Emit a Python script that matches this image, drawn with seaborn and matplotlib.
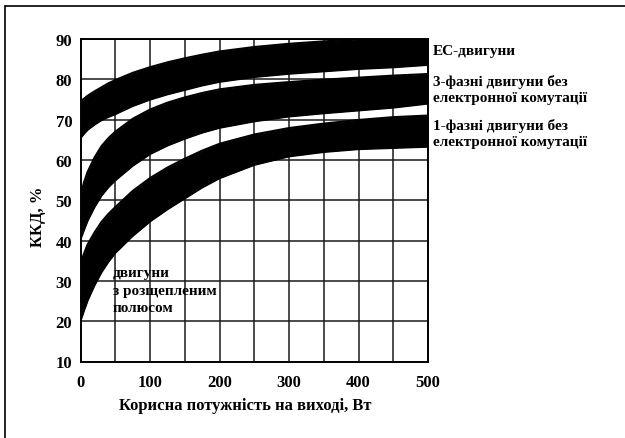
import numpy as np
import pandas as pd
import seaborn as sns
import matplotlib
matplotlib.use("Agg")
import matplotlib.pyplot as plt
from matplotlib.lines import Line2D

# ---- data ----
power = [0, 5, 10, 20, 30, 40, 50, 75, 100, 125, 150, 175, 200, 250, 300, 350, 400, 450, 500]
ec_hi = [74.5, 75.2, 75.9, 77.0, 78.0, 79.0, 79.8, 81.6, 83.0, 84.2, 85.2, 86.1, 86.9,
         88.0, 88.8, 89.4, 89.9, 90.2, 90.5]
ec_lo = [65.5, 66.6, 67.5, 68.8, 69.9, 70.7, 71.4, 73.4, 75.0, 76.3, 77.4, 78.5, 79.4,
         80.6, 81.4, 82.0, 82.6, 83.0, 83.6]
ph3_hi = [51.5, 54.5, 57.0, 60.6, 63.4, 65.4, 67.0, 70.2, 72.5, 74.2, 75.5, 76.6, 77.5,
          78.6, 79.3, 79.9, 80.4, 80.9, 81.3]
ph3_lo = [40.5, 42.8, 45.0, 48.4, 51.2, 53.3, 55.0, 58.6, 61.5, 63.6, 65.3, 66.8, 68.0,
          69.6, 70.8, 71.6, 72.3, 73.0, 74.0]
ph1_hi = [34.5, 36.8, 39.0, 42.0, 44.6, 46.6, 48.3, 52.3, 55.5, 58.1, 60.3, 62.3, 64.0,
          66.3, 67.9, 69.0, 69.9, 70.6, 71.0]
ph1_lo = [20.3, 22.8, 25.2, 29.0, 32.2, 34.8, 37.0, 41.2, 44.8, 47.8, 50.5, 53.2, 55.5,
          58.8, 60.9, 62.0, 62.7, 63.0, 63.3]

x_ticks = [0, 100, 200, 300, 400, 500]
y_ticks = [10, 20, 30, 40, 50, 60, 70, 80, 90]
x_label = "Корисна потужність на виході, Вт"
y_label = "ККД, %"
band_labels = [
    ("ЕС-двигуни", 52),
    ("3-фазні двигуни без", 82),
    ("електронної комутації", 98.5),
    ("1-фазні двигуни без", 126),
    ("електронної комутації", 142.5),
]
shaded_pole_label = "двигуни\nз розщепленим\nполюсом"

sns.set_theme(style="white")
plt.rcParams["font.family"] = ["Liberation Serif", "DejaVu Serif"]
plt.rcParams["font.weight"] = "bold"

W, H = 625, 439
fig = plt.figure(figsize=(W / 100, H / 100), dpi=100)
fig.patch.set_facecolor("white")
ax = fig.add_axes([80.7 / W, 1 - 362.5 / H, (428 - 80.7) / W, (362.5 - 40) / H])
ax.set_facecolor("white")

df = pd.DataFrame({"power": power, "ec_hi": ec_hi, "ec_lo": ec_lo,
                   "ph3_hi": ph3_hi, "ph3_lo": ph3_lo,
                   "ph1_hi": ph1_hi, "ph1_lo": ph1_lo})

for hi, lo in [("ec_hi", "ec_lo"), ("ph3_hi", "ph3_lo"), ("ph1_hi", "ph1_lo")]:
    ax.fill_between(df["power"], df[lo], df[hi], color="black", lw=0, zorder=3)
    for col in (hi, lo):
        sns.lineplot(data=df, x="power", y=col, ax=ax, color="black", lw=1.6,
                     zorder=3, legend=False)

ax.set_xlim(0, 500)
ax.set_ylim(10, 90)
ax.set_xticks(x_ticks)
ax.set_xticks(np.arange(0, 501, 50), minor=True)
ax.set_yticks(y_ticks)
ax.set_xticklabels([str(v) for v in x_ticks], fontsize=12, fontweight="bold")
ax.set_yticklabels([str(v) for v in y_ticks], fontsize=12, fontweight="bold")
ax.grid(True, which="both", color="#1a1a1a", lw=1.1, zorder=1)
ax.set_axisbelow(True)
ax.tick_params(axis="both", which="both", direction="out", length=4, width=1.2,
               color="black", pad=2, labelcolor="black")
ax.tick_params(axis="x", which="major", pad=5)
for s in ax.spines.values():
    s.set_color("black")
    s.set_linewidth(1.4)

ax.set_xlabel("")
ax.set_ylabel("")
fig.text(245 / W, 1 - 406 / H, x_label, ha="center", va="center",
         fontsize=12, fontweight="bold", color="black")
fig.text(38 / W, 1 - 217 / H, y_label, ha="center", va="center", rotation=90,
         fontsize=12, fontweight="bold", color="black")

for txt, yp in band_labels:
    fig.text(433 / W, 1 - yp / H, txt, ha="left", va="center",
             fontsize=11, fontweight="bold", color="black")
fig.text(113 / W, 1 - 291 / H, shaded_pole_label, ha="left", va="center",
         fontsize=11, fontweight="bold", color="black", linespacing=1.4)

# page frame (left and top edges)
fig.add_artist(Line2D([5 / W, 5 / W], [0, 1 - 7 / H], transform=fig.transFigure,
                      color="black", lw=1.2))
fig.add_artist(Line2D([5 / W, 1], [1 - 7 / H, 1 - 7 / H], transform=fig.transFigure,
                      color="black", lw=1.2))

fig.savefig("out.png", dpi=100, facecolor="white")
